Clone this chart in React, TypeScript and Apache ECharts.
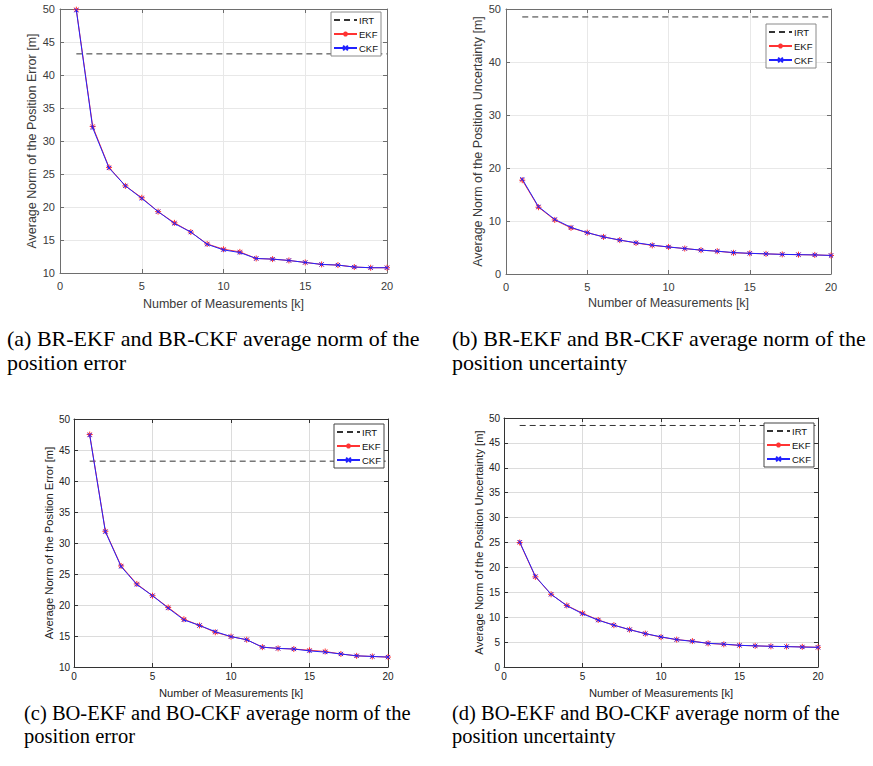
import React, { useEffect, useRef } from 'react';
import * as echarts from 'echarts';

const K = [1, 2, 3, 4, 5, 6, 7, 8, 9, 10, 11, 12, 13, 14, 15, 16, 17, 18, 19, 20];

const A_EKF = [49.9, 32.2, 26.0, 23.2, 21.4, 19.3, 17.6, 16.2, 14.4, 13.6, 13.2, 12.2, 12.1, 11.9, 11.6, 11.3, 11.2, 10.9, 10.8, 10.8];
const A_CKF = [49.8, 32.0, 25.9, 23.2, 21.3, 19.3, 17.5, 16.2, 14.35, 13.5, 13.1, 12.2, 12.1, 11.9, 11.6, 11.3, 11.2, 10.9, 10.8, 10.8];
const A_IRT = 43.2;

const B_EKF = [17.7, 12.6, 10.2, 8.7, 7.8, 7.0, 6.4, 5.85, 5.4, 5.1, 4.8, 4.5, 4.3, 4.0, 3.9, 3.8, 3.7, 3.65, 3.6, 3.5];
const B_CKF = [17.9, 12.7, 10.3, 8.8, 7.8, 7.0, 6.4, 5.9, 5.45, 5.1, 4.8, 4.5, 4.3, 4.05, 3.9, 3.8, 3.7, 3.65, 3.6, 3.5];
const B_IRT = 48.5;

const C_EKF = [47.5, 31.9, 26.3, 23.4, 21.5, 19.6, 17.7, 16.7, 15.6, 14.9, 14.4, 13.2, 13.0, 12.9, 12.7, 12.5, 12.1, 11.8, 11.7, 11.6];
const C_CKF = [47.4, 31.8, 26.2, 23.3, 21.5, 19.5, 17.6, 16.7, 15.7, 14.9, 14.4, 13.2, 13.0, 12.9, 12.6, 12.4, 12.1, 11.8, 11.7, 11.6];
const C_IRT = 43.2;

const D_EKF = [25.0, 18.1, 14.6, 12.35, 10.8, 9.45, 8.4, 7.5, 6.7, 6.0, 5.5, 5.2, 4.75, 4.55, 4.35, 4.25, 4.15, 4.1, 4.05, 3.95];
const D_CKF = [25.1, 18.2, 14.6, 12.3, 10.7, 9.4, 8.4, 7.5, 6.7, 6.05, 5.5, 5.15, 4.75, 4.6, 4.35, 4.25, 4.15, 4.1, 4.0, 3.95];
const D_IRT = 48.5;

const LEGEND_NAMES = ['IRT', 'EKF', 'CKF'];
const X_NAME = 'Number of Measurements [k]';
const Y_NAME_ERR = 'Average Norm of the Position Error [m]';
const Y_NAME_UNC = 'Average Norm of the Position Uncertainty [m]';

const CAPTIONS = [
  ['(a) BR-EKF and BR-CKF average norm of the', 'position error'],
  ['(b) BR-EKF and BR-CKF average norm of the', 'position uncertainty'],
  ['(c) BO-EKF and BO-CKF average norm of the', 'position error'],
  ['(d) BO-EKF and BO-CKF average norm of the', 'position uncertainty'],
];

const SANS = '"Liberation Sans", Arial, Helvetica, sans-serif';
const SERIF = '"Liberation Serif", "Times New Roman", serif';

const STAR = 'path://M5,0L5,10M0,5L10,5M1.5,1.5L8.5,8.5M1.5,8.5L8.5,1.5';
const CROSS = 'path://M0,0L10,10M0,10L10,0';

const PANELS = [
  {
    ekf: A_EKF, ckf: A_CKF, irt: A_IRT, yMin: 10, yInt: 5, yName: Y_NAME_ERR,
    grid: { left: 60, top: 9, width: 327, height: 264 },
    tickFs: 11, nameFs: 12.5, xLabelMargin: 7, xNameGap: 24, yLabelMargin: 5, yNameGap: 19,
    legend: { left: 331, top: 12 },
    axisColor: '#6e6e6e', gridColor: '#e8e8e8', textColor: '#3a3a3a', legendBorder: '#8a8a8a',
    cap: { x: 7, y1: 338, y2: 362, fs: 22 },
  },
  {
    ekf: B_EKF, ckf: B_CKF, irt: B_IRT, yMin: 0, yInt: 10, yName: Y_NAME_UNC,
    grid: { left: 506, top: 9, width: 325, height: 265 },
    tickFs: 11, nameFs: 12.5, xLabelMargin: 7, xNameGap: 22, yLabelMargin: 5, yNameGap: 20,
    legend: { left: 766, top: 24 },
    axisColor: '#6e6e6e', gridColor: '#e8e8e8', textColor: '#3a3a3a', legendBorder: '#8a8a8a',
    cap: { x: 452, y1: 338, y2: 362, fs: 22 },
  },
  {
    ekf: C_EKF, ckf: C_CKF, irt: C_IRT, yMin: 10, yInt: 5, yName: Y_NAME_ERR,
    grid: { left: 74, top: 419, width: 314, height: 248 },
    tickFs: 10, nameFs: 11.2, xLabelMargin: 4, xNameGap: 20, yLabelMargin: 4, yNameGap: 16,
    legend: { left: 334, top: 424 },
    axisColor: '#333', gridColor: '#dcdcdc', textColor: '#222', legendBorder: '#444',
    cap: { x: 24, y1: 713, y2: 736, fs: 20.5 },
  },
  {
    ekf: D_EKF, ckf: D_CKF, irt: D_IRT, yMin: 0, yInt: 5, yName: Y_NAME_UNC,
    grid: { left: 504, top: 418, width: 314, height: 249 },
    tickFs: 10, nameFs: 11.2, xLabelMargin: 4, xNameGap: 20, yLabelMargin: 4, yNameGap: 17,
    legend: { left: 764, top: 423 },
    axisColor: '#333', gridColor: '#dcdcdc', textColor: '#222', legendBorder: '#444',
    cap: { x: 452, y1: 713, y2: 736, fs: 20.5 },
  },
];

function buildOption() {
  const grid: any[] = [];
  const xAxis: any[] = [];
  const yAxis: any[] = [];
  const series: any[] = [];
  const legend: any[] = [];
  const graphic: any[] = [];

  PANELS.forEach((p, i) => {
    grid.push({ ...p.grid, show: true, backgroundColor: '#fff', borderWidth: 0 });
    const axisLine = { show: true, onZero: false, lineStyle: { color: p.axisColor, width: 1 } };
    const axisTick = { show: true, inside: true, length: 4, lineStyle: { color: p.axisColor, width: 1 } };
    xAxis[i] = {
      type: 'value', gridIndex: i, min: 0, max: 20, interval: 5, position: 'bottom',
      name: X_NAME, nameLocation: 'middle', nameGap: p.xNameGap,
      nameTextStyle: { fontSize: p.nameFs, color: p.textColor, fontFamily: SANS },
      axisLine, axisTick,
      axisLabel: { fontSize: p.tickFs, color: p.textColor, margin: p.xLabelMargin, fontFamily: SANS },
      splitLine: { show: true, lineStyle: { color: p.gridColor, width: 1 } },
    };
    xAxis[i + 4] = {
      type: 'value', gridIndex: i, min: 0, max: 20, interval: 5, position: 'top',
      axisLine, axisTick, axisLabel: { show: false }, splitLine: { show: false },
    };
    yAxis[i] = {
      type: 'value', gridIndex: i, min: p.yMin, max: 50, interval: p.yInt, position: 'left',
      name: p.yName, nameLocation: 'middle', nameGap: p.yNameGap, nameRotate: 90,
      nameTextStyle: { fontSize: p.nameFs, color: p.textColor, fontFamily: SANS },
      axisLine, axisTick,
      axisLabel: { fontSize: p.tickFs, color: p.textColor, margin: p.yLabelMargin, fontFamily: SANS },
      splitLine: { show: true, lineStyle: { color: p.gridColor, width: 1 } },
    };
    yAxis[i + 4] = {
      type: 'value', gridIndex: i, min: p.yMin, max: 50, interval: p.yInt, position: 'right',
      axisLine, axisTick, axisLabel: { show: false }, splitLine: { show: false },
    };

    series.push({
      type: 'line', name: 'IRT', xAxisIndex: i, yAxisIndex: i,
      data: [[K[0], p.irt], [K[K.length - 1], p.irt]],
      symbol: 'rect', showSymbol: false, symbolSize: 1,
      lineStyle: { type: [6, 4], color: '#333', width: 1 },
      itemStyle: { color: 'rgba(0,0,0,0)', borderWidth: 0 }, z: 2,
    });
    series.push({
      type: 'line', name: 'EKF', xAxisIndex: i, yAxisIndex: i,
      data: K.map((k, j) => [k, p.ekf[j]]),
      symbol: STAR, symbolSize: 6, showSymbol: true,
      itemStyle: { color: '#ff3333', borderColor: '#ff3333', borderWidth: 1 },
      lineStyle: { color: '#ff3333', width: 1 }, z: 3,
    });
    series.push({
      type: 'line', name: 'CKF', xAxisIndex: i, yAxisIndex: i,
      data: K.map((k, j) => [k, p.ckf[j]]),
      symbol: CROSS, symbolSize: 4, showSymbol: true,
      itemStyle: { color: '#2222ff', borderColor: '#2222ff', borderWidth: 1 },
      lineStyle: { color: '#2222ff', width: 1 }, z: 4,
    });

    legend.push({
      show: true, orient: 'vertical', left: p.legend.left, top: p.legend.top,
      data: [
        { name: LEGEND_NAMES[0], itemStyle: { opacity: 0 } },
        LEGEND_NAMES[1],
        LEGEND_NAMES[2],
      ],
      itemWidth: 23, itemHeight: 6, itemGap: 4,
      padding: [3, 3, 3, 2], borderColor: p.legendBorder, borderWidth: 1, borderRadius: 0,
      backgroundColor: '#fff', selectedMode: false,
      textStyle: { fontSize: 9.5, color: '#111', fontFamily: SANS, padding: [0, 0, 0, -3] },
    });

    graphic.push({
      type: 'text', x: p.cap.x, y: p.cap.y1,
      style: { text: CAPTIONS[i][0], fontSize: p.cap.fs, fontFamily: SERIF, fill: '#000', verticalAlign: 'middle' },
    });
    graphic.push({
      type: 'text', x: p.cap.x, y: p.cap.y2,
      style: { text: CAPTIONS[i][1], fontSize: p.cap.fs, fontFamily: SERIF, fill: '#000', verticalAlign: 'middle' },
    });
  });

  return {
    animation: false,
    backgroundColor: '#fff',
    grid, xAxis, yAxis, series, legend, graphic,
  };
}

export default function App() {
  const ref = useRef<HTMLDivElement>(null);
  useEffect(() => {
    if (!ref.current) return;
    const chart = echarts.init(ref.current, undefined, { renderer: 'svg' });
    chart.setOption(buildOption() as any);
    return () => chart.dispose();
  }, []);
  return (
    <div
      ref={ref}
      style={{ position: 'fixed', left: 0, top: 0, width: 873, height: 766, background: '#fff' }}
    />
  );
}
